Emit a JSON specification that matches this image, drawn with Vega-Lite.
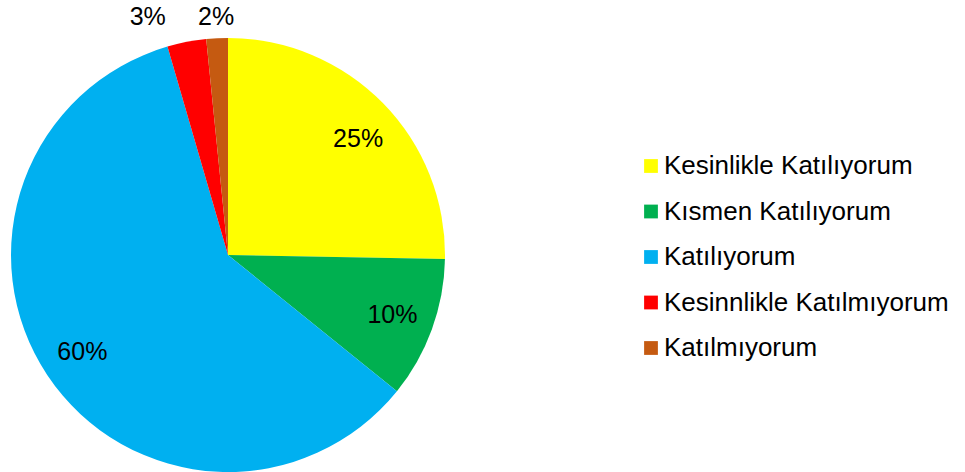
{
  "$schema": "https://vega.github.io/schema/vega-lite/v6.json",
  "width": 434,
  "height": 434,
  "autosize": {"type": "none"},
  "padding": {"left": 11, "top": 38, "right": 520, "bottom": 0},
  "background": "white",
  "config": {"view": {"stroke": null}},
  "data": {
    "values": [
      {"k": "Kesinlikle Katılıyorum", "v": 25.3, "lbl": "25%", "i": 1},
      {"k": "Kısmen Katılıyorum", "v": 10.5, "lbl": "10%", "i": 2},
      {"k": "Katılıyorum", "v": 59.7, "lbl": "60%", "i": 3},
      {"k": "Kesinnlikle Katılmıyorum", "v": 2.9, "lbl": "3%", "i": 4},
      {"k": "Katılmıyorum", "v": 1.6, "lbl": "2%", "i": 5}
    ]
  },
  "encoding": {
    "theta": {"field": "v", "type": "quantitative", "stack": true},
    "order": {"field": "i", "type": "quantitative"}
  },
  "layer": [
    {
      "mark": {"type": "arc", "strokeWidth": 0},
      "encoding": {
        "color": {
          "field": "k",
          "type": "nominal",
          "sort": ["Kesinlikle Katılıyorum", "Kısmen Katılıyorum", "Katılıyorum", "Kesinnlikle Katılmıyorum", "Katılmıyorum"],
          "scale": {
            "domain": ["Kesinlikle Katılıyorum", "Kısmen Katılıyorum", "Katılıyorum", "Kesinnlikle Katılmıyorum", "Katılmıyorum"],
            "range": ["#FFFF00", "#00B050", "#00B0F0", "#FF0000", "#C55A11"]
          },
          "legend": {
            "orient": "none",
            "legendX": 627,
            "legendY": 115,
            "title": null,
            "padding": 0,
            "symbolType": "square",
            "symbolSize": 190,
            "symbolStrokeWidth": 0,
            "labelFont": "Liberation Sans",
            "labelFontSize": 26,
            "labelColor": "#000000",
            "labelOffset": 0,
            "labelLimit": 400,
            "rowPadding": 19.5
          }
        }
      }
    },
    {
      "mark": {"type": "text", "radius": 175, "font": "Liberation Sans", "fontSize": 25, "color": "#000000", "align": "center", "baseline": "middle"},
      "encoding": {
        "text": {"condition": {"test": "datum.i == 2 || datum.i == 3", "field": "lbl"}, "value": ""}
      }
    },
    {
      "mark": {"type": "text", "radius": 174, "thetaOffset": 0.05, "font": "Liberation Sans", "fontSize": 25, "color": "#000000", "align": "center", "baseline": "middle"},
      "encoding": {
        "text": {"condition": {"test": "datum.i == 1", "field": "lbl"}, "value": ""}
      }
    },
    {
      "mark": {"type": "text", "radius": 251, "thetaOffset": -0.134, "font": "Liberation Sans", "fontSize": 25, "color": "#000000", "align": "center", "baseline": "middle"},
      "encoding": {
        "text": {"condition": {"test": "datum.i == 4", "field": "lbl"}, "value": ""}
      }
    },
    {
      "mark": {"type": "text", "radius": 238, "font": "Liberation Sans", "fontSize": 25, "color": "#000000", "align": "center", "baseline": "middle"},
      "encoding": {
        "text": {"condition": {"test": "datum.i == 5", "field": "lbl"}, "value": ""}
      }
    }
  ]
}
